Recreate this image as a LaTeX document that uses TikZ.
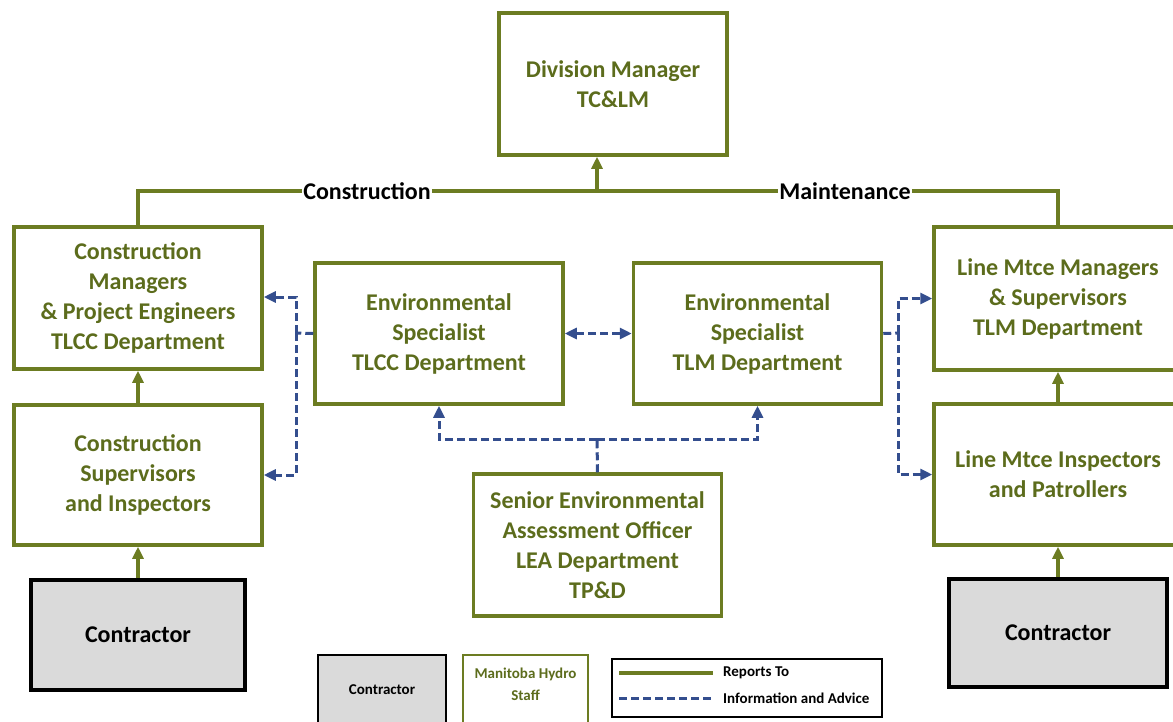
\documentclass[tikz,border=0pt]{standalone}
\usepackage{fontspec}
\setmainfont{Carlito}
\usetikzlibrary{arrows.meta}
\definecolor{mhgreen}{RGB}{108,124,34}
\definecolor{mhtext}{RGB}{92,108,28}
\definecolor{mhblue}{RGB}{52,78,142}
\definecolor{cgray}{RGB}{218,218,218}
\begin{document}
\begin{tikzpicture}[x=1pt,y=-1pt,
	every node/.style={font=\bfseries\fontsize{24}{30}\selectfont,align=center,inner sep=1pt},
	staff/.style={draw=mhgreen,line width=3.5pt,text=mhtext,minimum width=248pt,minimum height=142pt},
	contractor/.style={draw=black,line width=3.5pt,fill=cgray,minimum width=214pt,minimum height=110pt},
	small/.style={font=\bfseries\fontsize{15}{22}\selectfont},
	reports/.style={draw=mhgreen,line width=3.5pt},
	up/.style={reports,-{Triangle[length=12pt,width=11pt]}},
	info/.style={draw=mhblue,line width=3pt,dash pattern=on 8pt off 4pt},
	infoarrow/.style={info,-{Triangle[length=12pt,width=11pt]}}]
\path[use as bounding box,clip] (0,0) rectangle (1173,721);

% organisation
\node[staff,minimum width=228pt] (dm) at (613,84) {Division Manager\\TC\&LM};
\node[staff] (cm) at (138,298) {Construction\\Managers\\\& Project Engineers\\TLCC Department};
\node[staff,minimum height=140pt] (cs) at (138,475) {Construction\\Supervisors\\and Inspectors};
\node[contractor] (ctl) at (138,635) {Contractor};
\node[staff,minimum height=141pt] (et) at (439,333.5) {Environmental\\Specialist\\TLCC Department};
\node[staff,minimum height=141pt] (em) at (757.5,333.5) {Environmental\\Specialist\\TLM Department};
\node[staff] (se) at (597.5,545) {Senior Environmental\\Assessment Officer\\LEA Department\\TP\&D};
\node[staff,minimum height=143pt] (mm) at (1058,298.5) {Line Mtce Managers\\\& Supervisors\\TLM Department};
\node[staff,minimum height=141pt] (mi) at (1058,474.5) {Line Mtce Inspectors\\and Patrollers};
\node[contractor,minimum width=218pt,minimum height=108pt] (ctr) at (1058,633) {Contractor};

% reporting lines
\node (consl) at (367,191) {Construction};
\node (mtcl) at (845,191) {Maintenance};
\coordinate (dmfoot) at (597,191);
\draw[reports] (cm.north) |- (consl.west);
\draw[reports] (consl.east) -- (mtcl.west);
\draw[reports] (mtcl.east) -| (mm.north);
\draw[up] (dmfoot) -- (dmfoot |- dm.south);
\draw[up] (cs) -- (cm);
\draw[up] (ctl) -- (cs);
\draw[up] (mi) -- (mm);
\draw[up] (ctr) -- (mi);

% information and advice
\coordinate (lj) at (296,333);
\coordinate (rj) at (898,333);
\coordinate (sj) at (597,439);
\draw[info] (et.west) -- (lj);
\draw[infoarrow] (lj) |- ([yshift=1pt]cm.east);
\draw[infoarrow] (lj) |- (cs.east);
\draw[info] (em.east) -- (rj);
\draw[infoarrow] (rj) |- (mm.west);
\draw[infoarrow] (rj) |- (mi.west);
\draw[info,{Triangle[length=12pt,width=11pt]}-{Triangle[length=12pt,width=11pt]}] (et) -- (em);
\draw[info] (se.north) -- (sj);
\draw[infoarrow] (sj) -| (et.south);
\draw[infoarrow] (sj) -| (em.south);

% key
\node[contractor,small,line width=2.5pt,minimum width=128pt,minimum height=70pt] (keyc) at (382,690) {Contractor};
\node[staff,line width=2.5pt,minimum width=125pt,minimum height=70pt] (keys) at (525.5,690) {};
\node[small,text=mhtext] (keyst) at (525.5,684) {Manitoba Hydro\\Staff};
\node[draw=black,line width=2.5pt,minimum width=270pt,minimum height=58pt] (key) at (747,688) {};
\coordinate (ka) at (619,673);
\coordinate (kb) at (713,673);
\coordinate (kc) at (619,698);
\coordinate (kd) at (713,698);
\draw[reports] (ka) -- (kb);
\draw[info] (kc) -- (kd);
\node[small,anchor=west] (krep) at (722,673) {Reports To};
\node[small,anchor=west] (kinf) at (722,698) {Information and Advice};
\end{tikzpicture}
\end{document}
